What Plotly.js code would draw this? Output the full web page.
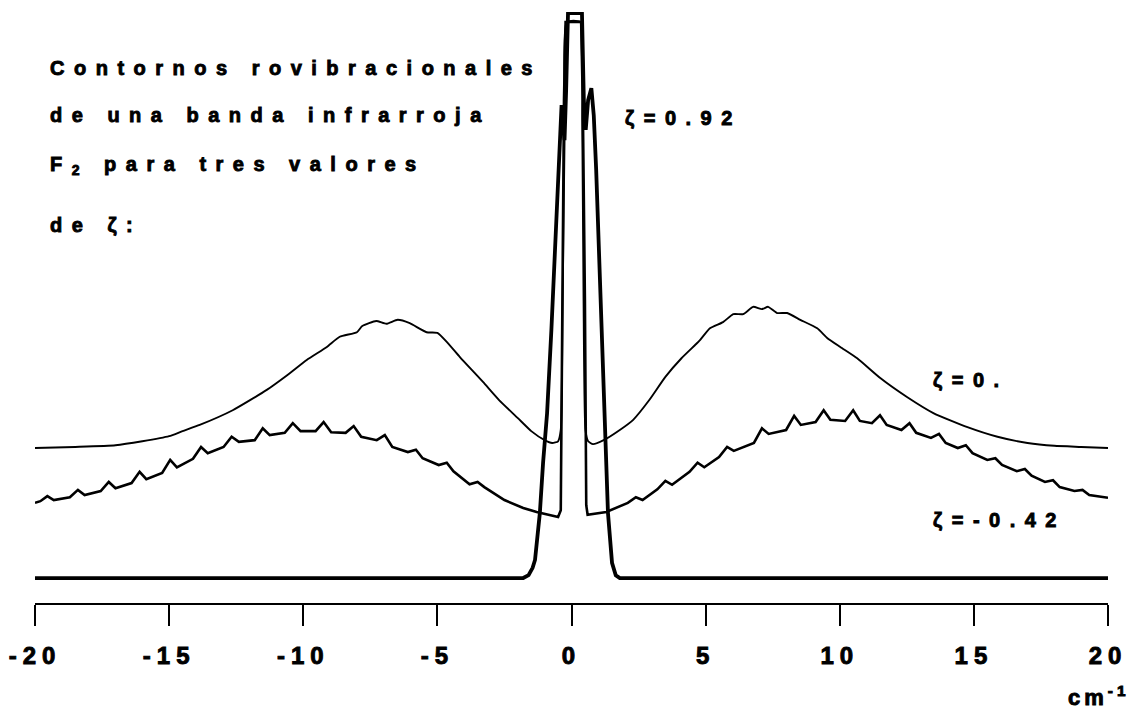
<!DOCTYPE html>
<html>
<head>
<meta charset="utf-8">
<script src="https://cdn.plot.ly/plotly-3.0.1.min.js"></script>
<style>
  html, body { margin: 0; padding: 0; background: #fff; }
  #chart { width: 1133px; height: 719px; }
  .annotation-text { letter-spacing: 9.5px; stroke: #000; stroke-width: 0.9px; }
  .annotation[data-index="7"] .annotation-text { letter-spacing: 4px; }
  .xtick text { letter-spacing: 6px; stroke: #000; stroke-width: 0.9px; }
</style>
</head>
<body>
<div id="chart"></div>
<script>
// Wavenumber axis ticks (cm^-1)
const tickVals = [-20, -15, -10, -5, 0, 5, 10, 15, 20];
const tickText = ["-20", "-15", "-10", "-5", "0", "5", "10", "15", "20"];

// zeta = 0 (thin line)
const zeta0X = [-20, -18.5, -17, -16, -15, -14.5, -13.86, -12.63, -11.36, -10.6, -9.87, -9.12, -8.64, -8.0, -7.8, -7.28, -6.9, -6.48, -6.03, -5.4, -5.0, -4.65, -4.16, -3.3, -2.7, -2.0, -1.5, -1.0, -0.72, -0.5, -0.4, -0.33, -0.25, -0.18,
  0.33, 0.4, 0.45, 0.52, 0.62, 0.8, 1.2, 1.8, 2.3, 2.9, 3.5, 4.1, 4.6, 4.79, 5.16, 5.65, 6.03, 6.4, 6.77, 7.1, 7.33, 7.67, 8.04, 8.53, 9.16, 9.53, 10.02, 10.65, 11.51, 12.52, 13.49, 14.76, 15.88, 17, 18, 19, 20];
const zeta0Y = [23.0, 23.2, 23.5, 24.2, 25.1, 26.0, 27.1, 29.7, 33.3, 35.9, 38.6, 40.9, 42.7, 43.5, 44.6, 45.5, 45.0, 45.7, 45.1, 43.5, 43.4, 41.8, 39.1, 34.7, 31.5, 28.3, 26.0, 24.4, 23.9, 24.2, 26.2, 49.2, 81.1, 98.4,
  98.4, 81.1, 49.2, 26.2, 24.2, 23.7, 24.4, 26.2, 28.0, 31.5, 35.6, 38.9, 41.2, 42.1, 44.2, 45.3, 46.7, 46.7, 48.0, 47.6, 48.0, 46.9, 46.9, 45.7, 44.2, 42.5, 40.9, 38.9, 35.4, 32.0, 29.2, 26.7, 25.0, 23.9, 23.4, 23.2, 23.0];

// zeta = -0.42 (medium line, with P/R line structure)
const zetaNegX = [-20, -19.8, -19.54, -19.3, -18.7, -18.4, -18.15, -17.55, -17.25, -17.0, -16.4, -16.1, -15.85, -15.26, -14.96, -14.71, -14.11, -13.81, -13.56, -12.97, -12.67, -12.4, -11.81, -11.51, -11.25, -10.69, -10.39, -10.1, -9.54, -9.24, -8.96, -8.42, -8.12, -7.84, -7.26, -6.96, -6.68, -6.1, -5.8, -5.55, -4.95, -4.65, -4.4, -3.8, -3.5, -3.25, -2.5, -1.8, -1.3, -0.9, -0.5, -0.4, -0.35, -0.28, -0.22,
  0.36, 0.42, 0.5, 0.55, 0.6, 1.3, 2.1, 2.4, 2.65, 3.2, 3.5, 3.75, 4.4, 4.7, 4.95, 5.5, 5.8, 6.05, 6.8, 7.1, 7.35, 8.0, 8.3, 8.55, 9.1, 9.4, 9.65, 10.2, 10.5, 10.75, 11.2, 11.5, 11.75, 12.3, 12.6, 12.85, 13.4, 13.7, 13.95, 14.4, 14.7, 14.95, 15.5, 15.8, 16.05, 16.6, 16.9, 17.15, 17.65, 17.95, 18.2, 18.75, 19.05, 19.3, 20];
const zetaNegY = [13.3, 13.6, 14.5, 13.8, 14.3, 15.6, 14.7, 15.4, 17.0, 15.9, 16.8, 18.8, 17.5, 18.6, 20.9, 19.6, 21.1, 23.2, 22.1, 23.2, 25.0, 24.1, 24.4, 26.5, 25.3, 25.7, 27.4, 26.0, 26.0, 27.6, 25.8, 25.7, 26.9, 25.0, 24.4, 25.3, 23.2, 22.3, 22.7, 21.2, 20.0, 20.4, 18.9, 16.6, 17.0, 16.1, 13.8, 12.4, 11.7, 11.2, 10.8, 12.0, 49.2, 84.6, 98.4,
  98.4, 84.6, 49.2, 12.9, 11.2, 11.7, 13.3, 14.3, 13.8, 15.7, 17.2, 16.5, 18.8, 20.4, 19.6, 21.4, 23.2, 22.5, 23.9, 26.5, 25.5, 26.2, 28.7, 27.1, 27.6, 29.7, 28.0, 27.8, 29.7, 27.8, 27.4, 28.8, 27.1, 26.2, 27.4, 25.7, 24.8, 25.5, 23.9, 23.0, 23.5, 22.1, 20.9, 21.2, 20.0, 18.9, 19.3, 18.1, 17.0, 17.3, 16.1, 15.4, 15.6, 14.7, 14.2];

// zeta = 0.92 (thick line)
const zetaPosX = [-20, -1.8, -1.6, -1.45, -1.36, -1.27, -1.18, -1.06, -0.91, -0.75, -0.6, -0.5, -0.42, -0.37, -0.31, -0.26, -0.2, -0.13,
  0.39, 0.46, 0.53, 0.62, 0.74, 0.83, 0.92, 1.05, 1.18, 1.36, 1.51, 1.65, 1.8, 20];
const zetaPosY = [0, 0, 0.5, 1.8, 3.2, 6.7, 11.5, 20.4, 29.2, 43.9, 59.8, 72.2, 81.1, 83.7, 80.2, 77.5, 86.4, 100,
  100, 84.6, 79.3, 84.6, 86.7, 81.9, 72.2, 54.5, 35.0, 11.5, 2.7, 0.5, 0, 0];

const fontFam = '"Liberation Sans", Arial, sans-serif';
const txtFont = { family: fontFam, size: 20, color: '#000' };

const traces = [
  { x: zeta0X, y: zeta0Y, mode: 'lines', line: { color: '#000', width: 1.9, shape: 'spline', smoothing: 0.5 }, hoverinfo: 'skip', name: 'ζ=0' },
  { x: zetaNegX, y: zetaNegY, mode: 'lines', line: { color: '#000', width: 2.6 }, hoverinfo: 'skip', name: 'ζ=-0.42' },
  { x: zetaPosX, y: zetaPosY, mode: 'lines', line: { color: '#000', width: 3.8 }, hoverinfo: 'skip', name: 'ζ=0.92' }
];

function note(text, x, y, anchor, size) {
  return { text: '<b>' + text + '</b>', xref: 'paper', yref: 'paper', x: x, y: y, xanchor: anchor || 'left', yanchor: 'middle',
    showarrow: false, font: Object.assign({}, txtFont, size ? { size: size } : {}) };
}

const layout = {
  width: 1133, height: 719,
  margin: { l: 35, r: 25, t: 12, b: 116 },
  paper_bgcolor: '#fff', plot_bgcolor: '#fff',
  showlegend: false,
  xaxis: {
    range: [-20, 20], showgrid: false, zeroline: false,
    showline: true, linecolor: '#000', linewidth: 2,
    ticks: 'outside', ticklen: 21, tickwidth: 2, tickcolor: '#000',
    tickmode: 'array', tickvals: tickVals, ticktext: tickText.map(t => '<b>' + t + '</b>'),
    ticklabelstandoff: 9,
    tickfont: { family: fontFam, size: 24, color: '#000' },
    fixedrange: true
  },
  yaxis: { range: [-4.42, 100.18], visible: false, fixedrange: true },
  annotations: [
    note('Contornos rovibracionales', 0.012, 0.905),
    note('de una banda infrarroja', 0.012, 0.826),
    note('F<sub>2</sub> para tres valores', 0.012, 0.741),
    note('de ζ:', 0.012, 0.640),
    note('ζ=0.92', 0.548, 0.821),
    note('ζ=0.', 0.835, 0.377),
    note('ζ=-0.42', 0.835, 0.140),
    note('cm<sup>-1</sup>', 1.0315, -0.158, 'right', 22)
  ]
};

Plotly.newPlot('chart', traces, layout, { staticPlot: true, displayModeBar: false });
</script>
</body>
</html>
